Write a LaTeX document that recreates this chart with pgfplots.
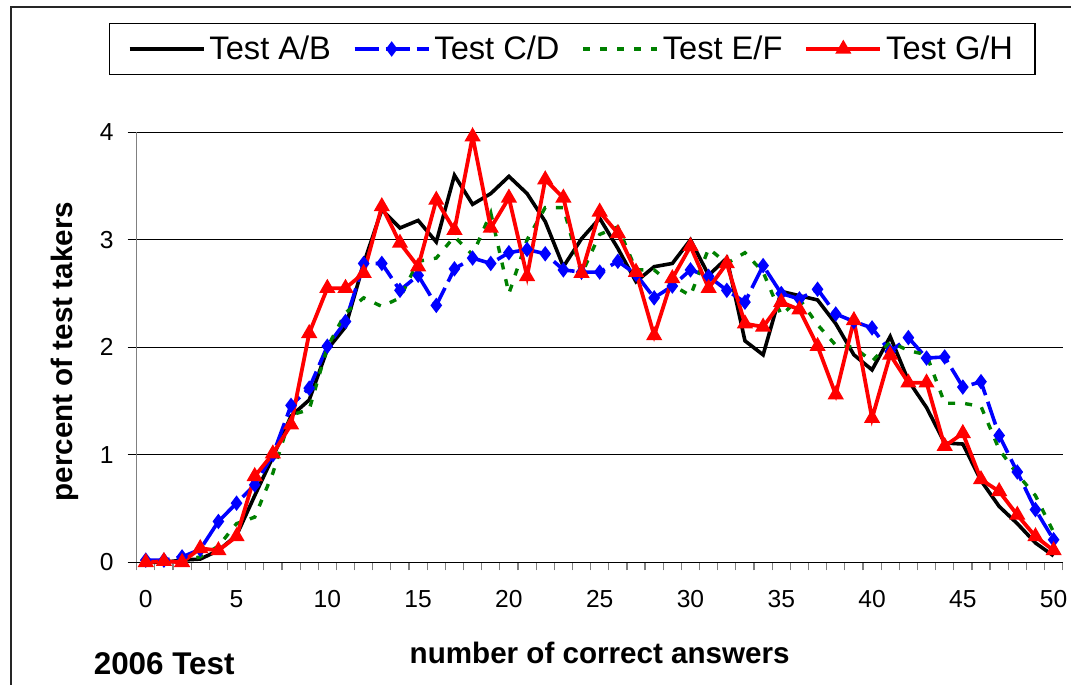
\documentclass[border=0pt]{standalone}
\usepackage{fontspec}
\setmainfont{Liberation Sans}
\usepackage{pgfplots}
\pgfplotsset{compat=1.18}
\pgfplotsset{
  legend image code/.code={\draw[mark repeat=2,mark phase=2,#1] plot coordinates {(0pt,0pt) (18.5pt,0pt) (37pt,0pt)};}
}
\definecolor{cgreen}{RGB}{0,128,0}
\begin{document}
\begin{tikzpicture}
\begin{axis}[
  at={(68.35pt,61.35pt)}, anchor=south west,
  scale only axis, width=463pt, height=215pt,
  xmin=-0.5, xmax=50.5, ymin=0, ymax=4,
  axis lines*=left, axis line style={-},
  x axis line style={black, line width=0.6pt},
  y axis line style={gray, line width=0.6pt},
  xtick={0,5,...,50},
  minor xtick={-0.5,0.5,...,50.5},
  ytick={0,1,2,3,4},
  tick align=outside,
  major tick length=4.5pt, minor tick length=4pt,
  major x tick style={draw=none},
  minor x tick style={gray, line width=0.6pt},
  major y tick style={black, line width=0.5pt},
  ymajorgrids, grid style={black, line width=0.5pt},
  /pgf/number format/assume math mode=true,
  tick label style={font=\fontsize{12.3}{14}\selectfont},
  xticklabel style={yshift=-6pt},
  yticklabel style={xshift=-3.5pt},
  xlabel={\textbf{number of correct answers}},
  ylabel={\textbf{percent of test takers}},
  label style={font=\fontsize{14.8}{17}\selectfont},
  xlabel style={at={(axis description cs:0.5,-0.211)}, anchor=center},
  ylabel style={at={(axis description cs:-0.0773,0.49)}, anchor=center},
  legend columns=4,
  legend style={at={(axis description cs:0.4706,1.1937)}, anchor=center,
    draw=black, line width=0.6pt, font=\fontsize{16.3}{19}\selectfont,
    inner xsep=9pt, inner ysep=4pt,
    /tikz/every even column/.append style={column sep=9pt}},
  clip=false,
]
\addplot[black, line width=1.8pt] coordinates {
(0,0.0) (1,0.0) (2,0.02) (3,0.03) (4,0.11) (5,0.25) (6,0.62) (7,0.98) (8,1.36) (9,1.51)
(10,1.98) (11,2.19) (12,2.78) (13,3.28) (14,3.11) (15,3.18) (16,2.98) (17,3.60) (18,3.33) (19,3.43)
(20,3.59) (21,3.43) (22,3.17) (23,2.75) (24,3.01) (25,3.20) (26,2.92) (27,2.61) (28,2.75) (29,2.78)
(30,3.00) (31,2.67) (32,2.83) (33,2.06) (34,1.93) (35,2.52) (36,2.48) (37,2.44) (38,2.22) (39,1.93)
(40,1.79) (41,2.10) (42,1.69) (43,1.44) (44,1.11) (45,1.10) (46,0.76) (47,0.52) (48,0.36) (49,0.18)
(50,0.06)};
\addlegendentry{Test A/B}
\addplot[blue, line width=1.8pt, dash pattern=on 12pt off 3.5pt,
  mark=diamond*, mark size=2.4pt, mark options={solid}] coordinates {
(0,0.02) (1,0.02) (2,0.05) (3,0.12) (4,0.38) (5,0.55) (6,0.72) (7,1.00) (8,1.46) (9,1.62)
(10,2.01) (11,2.24) (12,2.78) (13,2.78) (14,2.53) (15,2.67) (16,2.39) (17,2.73) (18,2.83) (19,2.78)
(20,2.88) (21,2.91) (22,2.87) (23,2.72) (24,2.70) (25,2.70) (26,2.80) (27,2.68) (28,2.46) (29,2.57)
(30,2.72) (31,2.66) (32,2.53) (33,2.42) (34,2.76) (35,2.50) (36,2.45) (37,2.54) (38,2.31) (39,2.24)
(40,2.18) (41,1.96) (42,2.09) (43,1.90) (44,1.91) (45,1.63) (46,1.68) (47,1.18) (48,0.84) (49,0.49)
(50,0.21)};
\addlegendentry{Test C/D}
\addplot[cgreen, line width=1.7pt, dash pattern=on 3.5pt off 5pt] coordinates {
(0,0.0) (1,0.0) (2,0.02) (3,0.05) (4,0.15) (5,0.36) (6,0.42) (7,0.83) (8,1.37) (9,1.42)
(10,2.00) (11,2.32) (12,2.46) (13,2.38) (14,2.46) (15,2.80) (16,2.83) (17,3.03) (18,2.86) (19,3.25)
(20,2.50) (21,3.00) (22,3.30) (23,3.30) (24,2.68) (25,3.05) (26,3.12) (27,2.72) (28,2.72) (29,2.58)
(30,2.48) (31,2.92) (32,2.78) (33,2.88) (34,2.70) (35,2.30) (36,2.45) (37,2.21) (38,2.02) (39,2.00)
(40,1.87) (41,2.05) (42,1.97) (43,1.93) (44,1.48) (45,1.48) (46,1.45) (47,1.05) (48,0.82) (49,0.62)
(50,0.28)};
\addlegendentry{Test E/F}
\addplot[red, line width=1.9pt, mark=triangle*, mark size=2.8pt, mark options={solid}] coordinates {
(0,0.0) (1,0.01) (2,0.0) (3,0.13) (4,0.11) (5,0.24) (6,0.80) (7,1.01) (8,1.28) (9,2.13)
(10,2.55) (11,2.55) (12,2.69) (13,3.31) (14,2.97) (15,2.75) (16,3.37) (17,3.09) (18,3.96) (19,3.11)
(20,3.39) (21,2.66) (22,3.56) (23,3.39) (24,2.69) (25,3.26) (26,3.06) (27,2.70) (28,2.11) (29,2.64)
(30,2.94) (31,2.55) (32,2.78) (33,2.22) (34,2.19) (35,2.42) (36,2.35) (37,2.01) (38,1.56) (39,2.25)
(40,1.34) (41,1.93) (42,1.67) (43,1.67) (44,1.08) (45,1.20) (46,0.77) (47,0.66) (48,0.44) (49,0.24)
(50,0.11)};
\addlegendentry{Test G/H}
\node[font=\bfseries\fontsize{15.7}{18}\selectfont, anchor=center] at (axis description cs:0.0297,-0.2365) {2006 Test};
\end{axis}
\draw[line width=1pt, black!85] (5.5pt,0pt) -- (5.5pt,339pt) -- (535.5pt,339pt);
\pgfresetboundingbox
\path[use as bounding box] (0pt,0pt) rectangle (535.5pt,342.5pt);
\end{tikzpicture}
\end{document}
